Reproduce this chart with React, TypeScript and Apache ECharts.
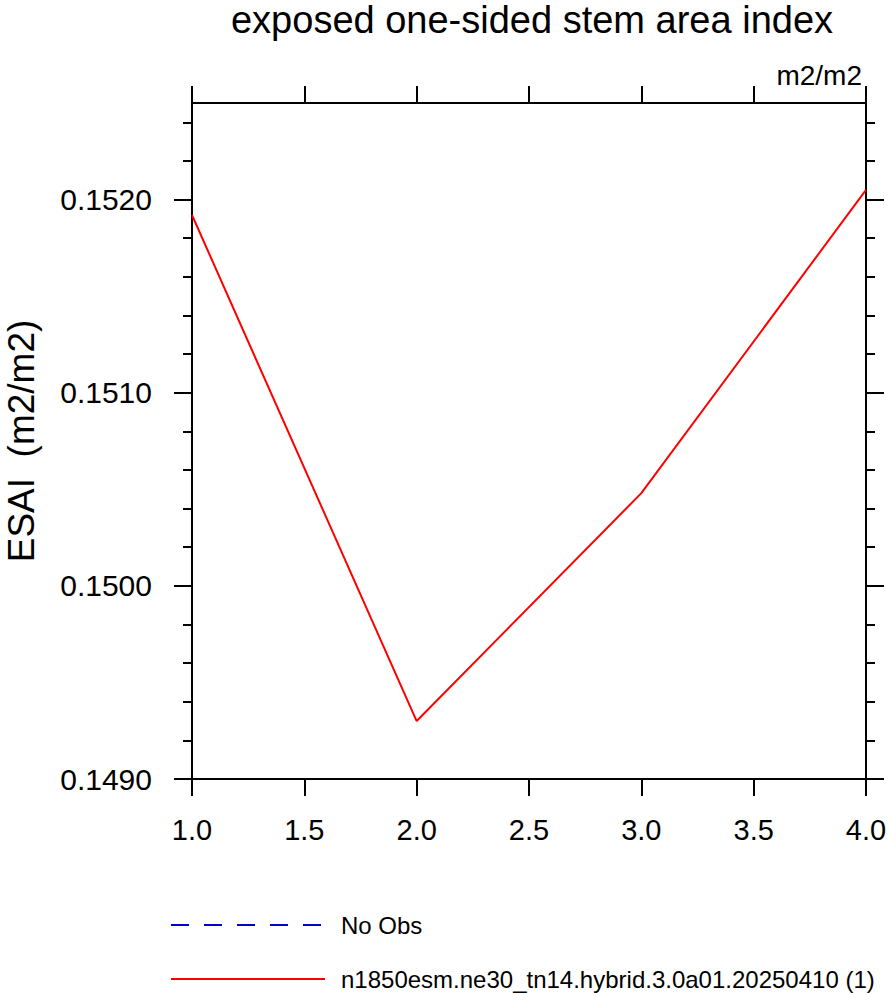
import React, { useEffect, useRef } from "react";
import * as echarts from "echarts";

const TITLE = "exposed one-sided stem area index";
const UNITS = "m2/m2";
const Y_NAME = "ESAI  (m2/m2)";

const xValues = [1, 2, 3, 4];
const esaiValues = [0.15192, 0.1493, 0.15048, 0.15205];

const seriesNames = ["No Obs", "n1850esm.ne30_tn14.hybrid.3.0a01.20250410 (1)"];

const yMajorTicks = [0.149, 0.15, 0.151, 0.152];
const yMinorTicks = [
  0.1492, 0.1494, 0.1496, 0.1498,
  0.1502, 0.1504, 0.1506, 0.1508,
  0.1512, 0.1514, 0.1516, 0.1518,
  0.1522, 0.1524,
];

const X_MIN = 1;
const X_MAX = 4;
const X_STEP = 0.5;
const Y_MIN = 0.149;
const Y_MAX = 0.1525;

const FONT = "'Liberation Sans', Arial, Helvetica, sans-serif";

export default function App() {
  const ref = useRef<HTMLDivElement>(null);

  useEffect(() => {
    document.body.style.margin = "0";
    const chart = echarts.init(ref.current!, undefined, { renderer: "svg" });

    const axisLineStyle = { color: "#000", width: 2 };

    const yBase = (position: "left" | "right", ticks: number[], len: number, showLine: boolean) => ({
      type: "value" as const,
      position,
      min: Y_MIN,
      max: Y_MAX,
      splitLine: { show: false },
      axisLine: { show: showLine, onZero: false, lineStyle: axisLineStyle },
      axisTick: { show: true, inside: false, length: len, customValues: ticks, lineStyle: { color: "#000", width: 2 } },
      axisLabel: { show: false },
    });

    const option: any = {
      animation: false,
      backgroundColor: "#fff",
      title: [
        {
          text: TITLE,
          left: 527,
          top: -4,
          textAlign: "center",
          textStyle: { fontFamily: FONT, fontSize: 38, fontWeight: "normal", color: "#000" },
        },
        {
          text: UNITS,
          right: 21,
          top: 56,
          textStyle: { fontFamily: FONT, fontSize: 28, fontWeight: "normal", color: "#000" },
        },
      ],
      grid: { left: 192, top: 103, right: 22, bottom: 214, outerBoundsMode: "none", containLabel: false },
      legend: {
        orient: "vertical",
        left: 170,
        top: 913,
        padding: 0,
        height: 80,
        itemWidth: 154,
        itemHeight: 14,
        itemGap: 30,
        data: seriesNames,
        itemStyle: { opacity: 0 },
        textStyle: { fontFamily: FONT, fontSize: 24, color: "#000", padding: [0, 0, 0, 11] },
      },
      xAxis: [
        {
          type: "value",
          position: "bottom",
          min: X_MIN,
          max: X_MAX,
          interval: X_STEP,
          splitLine: { show: false },
          axisLine: { onZero: false, lineStyle: axisLineStyle },
          axisTick: { inside: false, length: 17, lineStyle: { color: "#000", width: 2 } },
          axisLabel: {
            margin: 36,
            fontFamily: FONT,
            fontSize: 29,
            color: "#000",
            formatter: (v: number) => v.toFixed(1),
          },
        },
        {
          type: "value",
          position: "top",
          min: X_MIN,
          max: X_MAX,
          interval: X_STEP,
          splitLine: { show: false },
          axisLine: { onZero: false, lineStyle: axisLineStyle },
          axisTick: { inside: false, length: 17, lineStyle: { color: "#000", width: 2 } },
          axisLabel: { show: false },
        },
      ],
      yAxis: [
        {
          ...yBase("left", yMajorTicks, 18, true),
          name: Y_NAME,
          nameLocation: "middle",
          nameGap: 152,
          nameTextStyle: { fontFamily: FONT, fontSize: 37, color: "#000" },
          axisLabel: {
            show: true,
            customValues: yMajorTicks,
            margin: 40,
            fontFamily: FONT,
            fontSize: 30,
            color: "#000",
            formatter: (v: number) => v.toFixed(4),
          },
        },
        yBase("left", yMinorTicks, 9, false),
        yBase("right", yMajorTicks, 18, true),
        yBase("right", yMinorTicks, 9, false),
      ],
      series: [
        {
          name: seriesNames[0],
          type: "line",
          data: [],
          symbol: "none",
          color: "#0000cc",
          lineStyle: { color: "#0000cc", width: 1, type: [18, 15] },
        },
        {
          name: seriesNames[1],
          type: "line",
          data: xValues.map((x, i) => [x, esaiValues[i]]),
          symbol: "none",
          color: "#ff0000",
          lineStyle: { color: "#ff0000", width: 2 },
        },
      ],
    };

    chart.setOption(option);
    return () => chart.dispose();
  }, []);

  return (
    <div
      ref={ref}
      style={{ position: "absolute", left: 0, top: 0, width: 888, height: 993 }}
    />
  );
}
